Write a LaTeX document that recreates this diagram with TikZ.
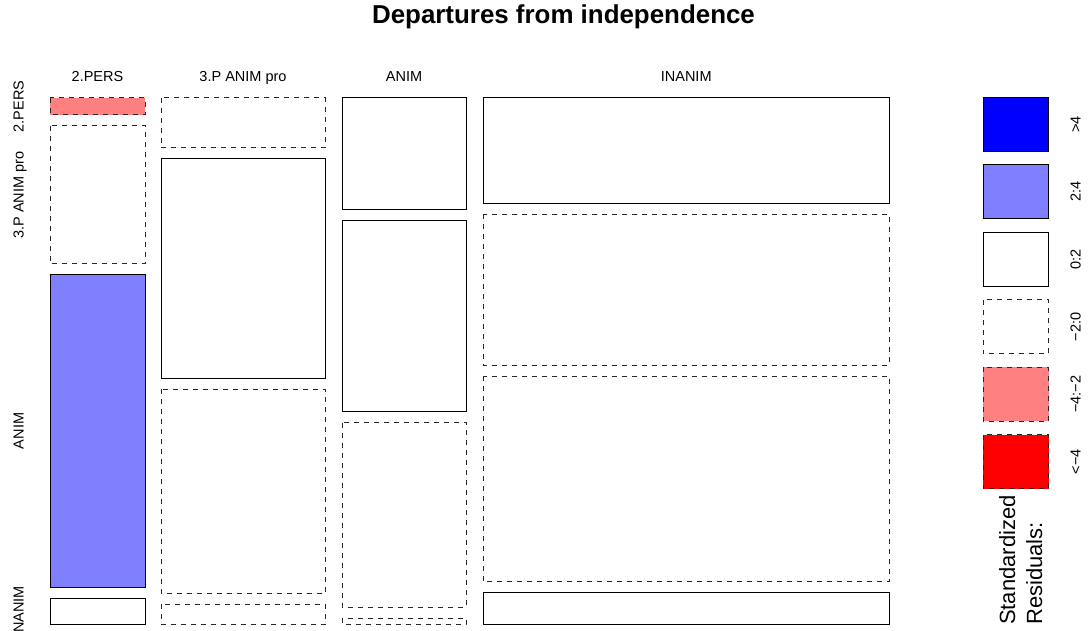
\documentclass[tikz,border=0pt]{standalone}
\usepackage{fontspec}
\setmainfont{Liberation Sans}
\usepackage{tikz}
\definecolor{posmid}{RGB}{128,128,255}
\definecolor{poshi}{RGB}{0,0,255}
\definecolor{negmid}{RGB}{255,128,128}
\definecolor{neghi}{RGB}{255,0,0}
\tikzstyle{tile} = [line width=1pt, draw=black]
\tikzstyle{plain} = [tile, fill=white]
\tikzstyle{dashtile} = [tile, draw=black!85, dash pattern=on 5pt off 5pt]
\tikzstyle{bluetile} = [tile, fill=posmid]
\tikzstyle{darkblue} = [tile, fill=poshi]
\tikzstyle{pinktile} = [dashtile, fill=negmid]
\tikzstyle{redtile} = [dashtile, fill=neghi]
\tikzstyle{lab} = [font=\fontsize{14.5}{17}\selectfont, inner sep=0pt, anchor=base]
\tikzstyle{sidelab} = [lab, rotate=90]

\begin{document}
\begin{tikzpicture} [x=1pt, y=-1pt]
        \useasboundingbox (0,0) rectangle (1088,631);
        \clip (0,0) rectangle (1088,631);
        \node (title) [inner sep=0pt, anchor=base, font=\fontsize{25.9}{30}\selectfont\bfseries] at (563.5,24) {Departures from independence};
        % column labels
        \node (top1) [lab] at (97.5,82) {2.PERS};
        \node (top2) [lab] at (243,82) {3.P ANIM pro};
        \node (top3) [lab] at (404,82) {ANIM};
        \node (top4) [lab] at (686.2,82) {INANIM};
        % row labels
        \node (left1) [sidelab] at (23.5,106.5) {2.PERS};
        \node (left2) [sidelab] at (23.5,195) {3.P ANIM pro};
        \node (left3) [sidelab] at (23.5,431) {ANIM};
        \node (left4) [sidelab] at (23.5,611.5) {INANIM};
        % 2.PERS
        \draw [pinktile] (50,98) rectangle (145,115);
        \draw [dashtile] (50,125.7) rectangle (145,264);
        \draw [bluetile] (50,274.5) rectangle (145,587.7);
        \draw [plain] (50,598.7) rectangle (145,624.3);
        % 3.P ANIM pro
        \draw [dashtile] (161,98) rectangle (325,148);
        \draw [plain] (161,158.3) rectangle (325,378.5);
        \draw [dashtile] (161,389) rectangle (325,593.3);
        \draw [dashtile] (161,604.3) rectangle (325,624.7);
        % ANIM
        \draw [plain] (342,98) rectangle (466,209.7);
        \draw [plain] (342,220.3) rectangle (466,411.7);
        \draw [dashtile] (342,422.7) rectangle (466,607);
        \draw [dashtile] (342,618.3) rectangle (466,624.7);
        % INANIM
        \draw [plain] (483,98) rectangle (889.5,204);
        \draw [dashtile] (483,214.3) rectangle (889.5,365);
        \draw [dashtile] (483,376) rectangle (889.5,581.7);
        \draw [plain] (483,592.3) rectangle (889.5,624.5);
        % legend
        \draw [darkblue] (983,97.3) rectangle (1048.5,151.3);
        \draw [bluetile] (983,164.8) rectangle (1048.5,218.8);
        \draw [plain] (983,232.3) rectangle (1048.5,286.3);
        \draw [dashtile] (983,299.8) rectangle (1048.5,353.8);
        \draw [pinktile] (983,367.3) rectangle (1048.5,421.3);
        \draw [redtile] (983,434.8) rectangle (1048.5,488.8);
        \node (key1) [sidelab] at (1080.5,124.3) {>4};
        \node (key2) [sidelab] at (1080.5,191.8) {2:4};
        \node (key3) [sidelab] at (1080.5,259.3) {0:2};
        \node (key4) [sidelab] at (1080.5,326.8) {−2:0};
        \node (key5) [sidelab] at (1080.5,394.3) {−4:−2};
        \node (key6) [sidelab] at (1080.5,461.8) {<−4};
        \node (keytitle1) [inner sep=0pt, rotate=90, anchor=base west, font=\fontsize{22}{27}\selectfont] at (1015,625) {Standardized};
        \node (keytitle2) [inner sep=0pt, rotate=90, anchor=base west, font=\fontsize{22}{27}\selectfont] at (1042,625) {Residuals:};
        \end{tikzpicture}
\end{document}
